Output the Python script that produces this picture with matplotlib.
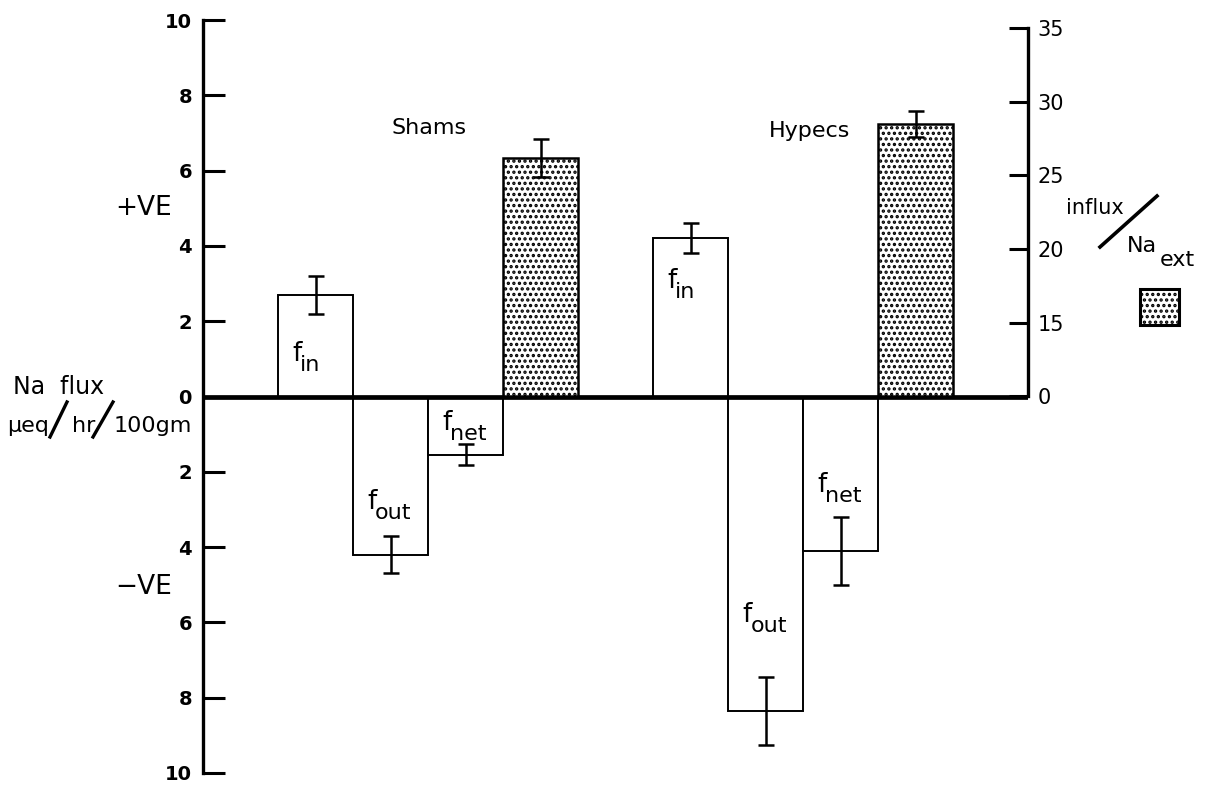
import numpy as np
import matplotlib
matplotlib.use('Agg')
import matplotlib.pyplot as plt
from matplotlib.patches import Rectangle

# Na flux (ueq/hr/100gm), left axis; negative = efflux
groups = ["Shams", "Hypecs"]
flux_labels = ["in", "out", "net"]
shams_flux = [2.7, -4.2, -1.55]
shams_err = [0.5, 0.5, 0.28]
hypecs_flux = [4.2, -8.35, -4.1]
hypecs_err = [0.4, 0.9, 0.9]

# influx / Na_ext, right axis (broken scale 0 | 15-35)
ratio = [26.2, 28.5]
ratio_err = [1.3, 0.9]

left_ticks = [-10, -8, -6, -4, -2, 0, 2, 4, 6, 8, 10]
right_ticks = [0, 15, 20, 25, 30, 35]

plt.rcParams['font.family'] = 'DejaVu Sans'
plt.rcParams['hatch.linewidth'] = 1.6

W, H = 1215, 792
fig = plt.figure(figsize=(12.15, 7.92), dpi=100)
ax = fig.add_axes([203/W, 1 - 773/H, (1028 - 203)/W, 753/H])
ax.set_xlim(0, 11)
ax.set_ylim(-10, 10)

width = 1.0
starts = [1.5, 6.5]
all_flux = [shams_flux, hypecs_flux]
all_err = [shams_err, hypecs_err]

for g in range(2):
    xs = [starts[g] + i for i in range(3)]
    ax.bar(xs, all_flux[g], width=width, facecolor='white', edgecolor='black',
           linewidth=1.4, zorder=2)
    ax.errorbar(xs, all_flux[g], yerr=all_err[g], fmt='none', ecolor='black',
                elinewidth=1.8, capsize=5.5, capthick=1.8, zorder=3)

# f labels inside the bars: baseline height of the "f"
lab_y = [[0.93, -3.0, -0.88], [2.87, -5.99, -2.53]]
for g in range(2):
    for i, name in enumerate(flux_labels):
        fx = starts[g] + i - 0.31
        ax.text(fx, lab_y[g][i], "f", fontsize=19, ha='left', va='baseline', zorder=4)
        ax.annotate(name, xy=(fx, lab_y[g][i]), xytext=(8, -10),
                    textcoords='offset pixels', fontsize=16, ha='left',
                    va='baseline', zorder=4)

ax.text(3.01, 7.12, groups[0], fontsize=16, ha='center', va='center')
ax.text(8.09, 7.05, groups[1], fontsize=16, ha='center', va='center')

# right axis with broken scale
k = 73.4 / 75.0
def fwd(r):
    r = np.asarray(r, dtype=float)
    return np.where(r >= 15, k * (r - 10) / 2.5, k * r * 2 / 15)
def inv(p):
    p = np.asarray(p, dtype=float)
    return np.where(p >= 2 * k, p / k * 2.5 + 10, p / k * 15 / 2)

ax2 = ax.twinx()
ax2.set_yscale('function', functions=(fwd, inv))
ax2.set_ylim(float(inv(-10)), float(inv(10)))
xs2 = [starts[0] + 3, starts[1] + 3]
ax2.bar(xs2, ratio, width=width, facecolor='white', edgecolor='black',
        hatch='...', linewidth=1.8, zorder=2)
ax2.errorbar(xs2, ratio, yerr=ratio_err, fmt='none', ecolor='black',
             elinewidth=1.8, capsize=5.5, capthick=1.8, zorder=3)
ax2.set_yticks(right_ticks)
ax2.set_yticklabels([str(t) for t in right_ticks], fontsize=15)
ax2.tick_params(axis='y', direction='in', length=14, width=2.2, pad=7)
for s in ['top', 'bottom', 'left']:
    ax2.spines[s].set_visible(False)
ax2.spines['right'].set_bounds(0, 35)
ax2.spines['right'].set_linewidth(2.4)

# left axis
ax.set_yticks(left_ticks)
ax.set_yticklabels([str(abs(t)) for t in left_ticks], fontsize=14, fontweight='semibold')
ax.tick_params(axis='y', direction='in', length=16, width=2.2, pad=8)
ax.set_xticks([])
for s in ['top', 'bottom', 'right']:
    ax.spines[s].set_visible(False)
ax.spines['left'].set_linewidth(2.4)
ax.axhline(0, color='black', linewidth=3.4, zorder=5)

# side annotations
def slash(x0, y0, x1, y1, lw=2.4):
    fig.lines.append(plt.Line2D([x0/W, x1/W], [1 - y0/H, 1 - y1/H],
                                transform=fig.transFigure, color='black', linewidth=lw))

fig.text(115/W, 1 - 208/H, "+VE", fontsize=19, ha='left', va='center')
fig.text(115/W, 1 - 587/H, "\u2212VE", fontsize=19, ha='left', va='center')
fig.text(13/W, 1 - 387/H, "Na  flux", fontsize=17, ha='left', va='center')
fig.text(7/W, 1 - 432/H, "\u03bceq", fontsize=16, ha='left', va='baseline')
slash(50, 437, 67, 402)
fig.text(72/W, 1 - 432/H, "hr", fontsize=16, ha='left', va='baseline')
slash(93, 437, 113, 402)
fig.text(114/W, 1 - 432/H, "100gm", fontsize=16, ha='left', va='baseline')

fig.text(1066/W, 1 - 208/H, "influx", fontsize=15, ha='left', va='center')
slash(1100, 247, 1157, 196, lw=2.6)
fig.text(1127/W, 1 - 252/H, "Na", fontsize=16, ha='left', va='baseline')
fig.text(1160/W, 1 - 266/H, "ext", fontsize=16, ha='left', va='baseline')
fig.patches.append(Rectangle((1140/W, 1 - 325/H), 39/W, 36/H,
                             transform=fig.transFigure, facecolor='white',
                             edgecolor='black', hatch='...', linewidth=2.2))

fig.savefig('out.png', dpi=100)
